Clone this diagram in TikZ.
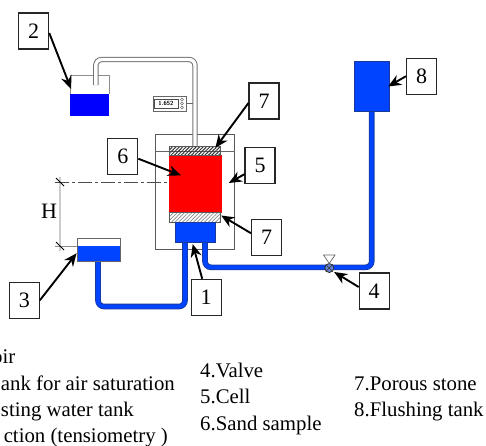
\documentclass[tikz,border=0pt]{standalone}
\usepackage{fontspec}
\setmainfont{Liberation Serif}
\usetikzlibrary{arrows.meta,patterns.meta}
\definecolor{flow}{HTML}{0044FF}
\definecolor{flowedge}{HTML}{1A3A9A}
\tikzset{
  x=1pt,y=-1pt,
  callout/.style={draw=black!85,line width=1.1pt,fill=white,minimum width=30pt,minimum height=36pt,inner sep=0pt,font=\fontsize{22}{22}\selectfont},
  pointer/.style={draw=black,line width=1.9pt,-{Stealth[length=13pt,width=11pt]},shorten >=-1pt},
  vessel/.style={draw=black!70,line width=.7pt,inner sep=0pt},
  legend/.style={inner sep=0pt,font=\fontsize{20.8}{20.8}\selectfont},
  pipeout/.style={draw=flowedge,line width=5.6pt,rounded corners=6pt},
  pipein/.style={draw=flow,line width=4pt,rounded corners=6pt},
  tubeout/.style={draw=black!55,line width=5.4pt,rounded corners=6pt},
  tubein/.style={draw=white,line width=3.4pt,rounded corners=6pt},
  gauge/.style={draw=black!60,line width=.8pt},
  hatchtop/.style={draw=black!65,line width=.7pt,pattern={Lines[angle=45,distance=2.4pt,line width=1pt]},pattern color=black!80},
  hatchlow/.style={draw=black!65,line width=.7pt,pattern={Lines[angle=45,distance=2.6pt,line width=.7pt]},pattern color=black!45},
}
\begin{document}
\begin{tikzpicture}
\useasboundingbox (0,0) rectangle (486,445);
% cell
\node[vessel,draw=black!65,line width=.9pt,fill=white,minimum width=79pt,minimum height=114.6pt] (cell) at (195.2,192) {};
\coordinate (cellL) at (155.7,151.7);
\coordinate (cellR) at (234.7,151.7);
\draw[gauge] (cellL) -- (cellR);
% tube from air tank to cell
\coordinate (t1) at (95.8,85);
\coordinate (t2) at (95.8,59.5);
\coordinate (t3) at (195,59.5);
\coordinate (t4) at (195,147);
% air tank
\fill[blue] (70,94) rectangle (109,116);
\draw[draw=black!45,line width=.7pt] (70,94) -- (70,75) -- (109,75) -- (109,94);
\node[inner sep=0pt,minimum width=39pt,minimum height=41pt] (tank2) at (89.5,95.5) {};
\draw[tubeout] (t1) -- (t2) -- (t3) -- (t4);
\draw[tubein] (t1) -- (t2) -- (t3) -- (t4);
% gauge
\node[gauge,fill=white,minimum width=33pt,minimum height=15pt,inner sep=0pt] (disp) at (169.5,103.5) {};
\node[draw=black!70,line width=.5pt,fill=white,minimum width=24pt,minimum height=9pt,inner sep=0pt,font=\sffamily\bfseries\fontsize{6}{6}\selectfont] (read) at (166,103.5) {1.652};
\foreach \yy in {99.5,103.5,107.5} \draw[black!55,line width=.5pt] (182,\yy) circle (1.5);
\draw[gauge] (disp.east) -- (192.5,103.5);
% pipes
\coordinate (p1) at (98,261);
\coordinate (p2) at (98,306.5);
\coordinate (p3) at (185,306.5);
\coordinate (p4) at (185,242);
\draw[pipeout] (p1) -- (p2) -- (p3) -- (p4);
\draw[pipein] (p1) -- (p2) -- (p3) -- (p4);
\coordinate (q1) at (205,242);
\coordinate (q2) at (205,267.3);
\coordinate (q3) at (371.7,267.3);
\coordinate (q4) at (371.7,111);
\draw[pipeout] (q1) -- (q2) -- (q3) -- (q4);
\draw[pipein] (q1) -- (q2) -- (q3) -- (q4);
% sample
\node[inner sep=0pt,fill=red,minimum width=52.5pt,minimum height=58pt] (sand) at (195.3,184) {};
\path[hatchtop] (169.3,146.7) rectangle (220.7,155);
\path[hatchlow] (169.3,212.7) rectangle (220.7,222);
\node[vessel,fill=flow,draw=flowedge,minimum width=40pt,minimum height=20.7pt] (base) at (195,232.4) {};
% flushing tank
\node[vessel,fill=flow,draw=flowedge,minimum width=34.3pt,minimum height=50.7pt] (tank8) at (371.8,86.3) {};
% lower water tank
\node[vessel,draw=black!60,fill=flow,minimum width=43pt,minimum height=23.4pt] (tank3) at (98.5,250) {};
\fill[white] (77.5,238.8) rectangle (119.5,246);
% valve
\node[circle,draw=black!80,line width=.8pt,fill=flow!70!black!60,minimum size=9pt,inner sep=0pt] (valve) at (329.3,268) {};
\draw[black!80,line width=.5pt] (valve.north west) -- (valve.south east) (valve.north east) -- (valve.south west);
\draw[draw=black!60,line width=.7pt,fill=white] (323.5,255) -- (335,255) -- (329.3,263.5) -- cycle;
% level marks
\coordinate (hTop) at (60,182);
\coordinate (hLow) at (60,246);
\draw[black!20,line width=1.2pt] (60,177) -- (60,251);
\draw[black!70,line width=.8pt,dash pattern=on 14pt off 3pt on 3pt off 3pt] (55,182) -- (170,182);
\draw[black!45,line width=.8pt] (55,246) -- (77,246);
\draw[black,line width=.8pt] (56,178) -- (64,186);
\draw[black,line width=.8pt] (56,242) -- (64,250);
\node[inner sep=0pt,font=\fontsize{22}{22}\selectfont] (hlabel) at (49,211) {H};
% callouts
\node[callout] (b1) at (206.2,297.3) {1};
\node[callout] (b2) at (33.7,31) {2};
\node[callout] (b3) at (24.3,300.3) {3};
\node[callout] (b4) at (374.2,291) {4};
\node[callout] (b5) at (260,165.2) {5};
\node[callout] (b6) at (122.8,156.7) {6};
\node[callout] (b7a) at (264,101) {7};
\node[callout] (b7b) at (266.5,237.2) {7};
\node[callout] (b8) at (421.5,76.2) {8};
% pointer ends
\coordinate (a1) at (193,245);
\coordinate (a2) at (70.7,88);
\coordinate (a3) at (76,254);
\coordinate (a4) at (335,272.5);
\coordinate (a5) at (229.7,182.5);
\coordinate (a6) at (180,175);
\coordinate (a7a) at (216,147);
\coordinate (a7b) at (222,216);
\coordinate (a8) at (389,86);
\draw[pointer] (b1.north) ++(-4,0) -- (a1);
\draw[pointer] (b2.east) ++(0,2) -- (a2);
\draw[pointer] (b3.east) -- (a3);
\draw[pointer] (b4.west) ++(0,-4) -- (a4);
\draw[pointer] (b5.west) ++(0,9) -- (a5);
\draw[pointer] (b6.east) ++(0,2) -- (a6);
\draw[pointer] (b7a.west) ++(0,2) -- (a7a);
\draw[pointer] (b7b.west) ++(0,-4) -- (a7b);
\draw[pointer] (b8.west) -- (a8);
% legend
\node[legend,anchor=base east] (l1) at (15.5,363) {oir};
\node[legend,anchor=base east] (l2) at (175,390) {ank for air saturation};
\node[legend,anchor=base east] (l3) at (134,416) {sting water tank};
\node[legend,anchor=base east] (l4) at (168,442) {ction (tensiometry )};
\node[legend,anchor=base west] (l5) at (200,377) {4.Valve};
\node[legend,anchor=base west] (l6) at (200,403) {5.Cell};
\node[legend,anchor=base west] (l7) at (200,430) {6.Sand sample};
\node[legend,anchor=base west] (l8) at (354,390) {7.Porous stone};
\node[legend,anchor=base west] (l9) at (354,416.5) {8.Flushing tank};
\end{tikzpicture}
\end{document}
